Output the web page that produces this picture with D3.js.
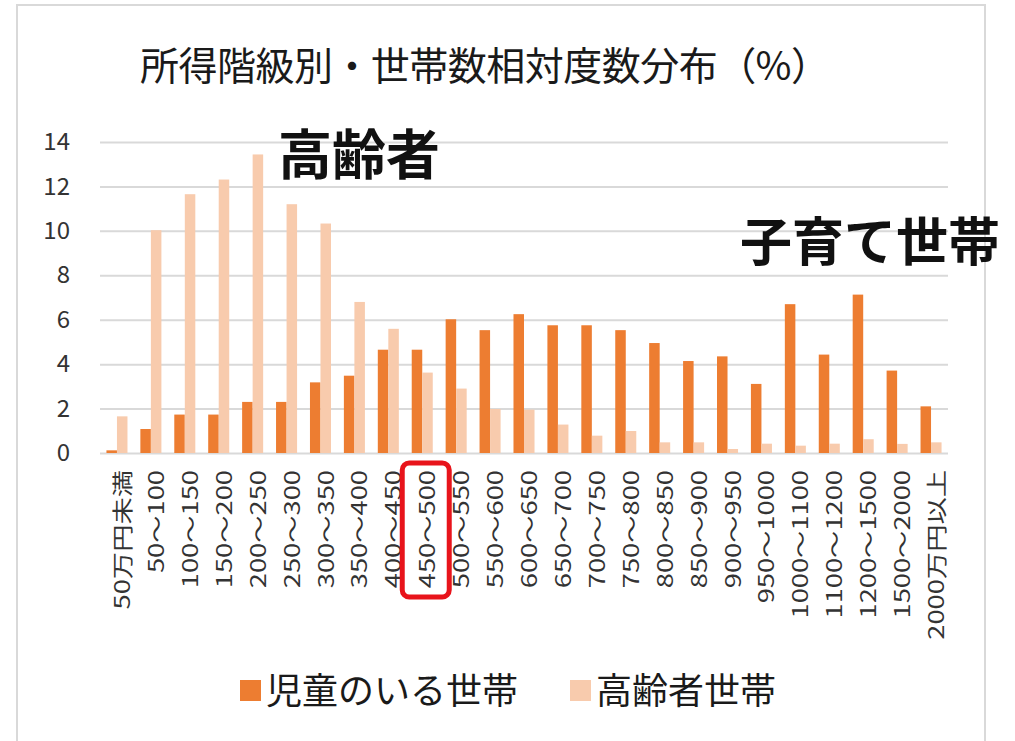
<!DOCTYPE html>
<html><head><meta charset="utf-8">
<script src="https://cdn.jsdelivr.net/npm/d3@7"></script>
<style>body{margin:0;background:#fff}svg{display:block}</style>
</head><body>
<svg id="c" width="1015" height="741"></svg>
<script>
const categories = ["50万円未満","50～100","100～150","150～200","200～250","250～300","300～350","350～400","400～450","450～500","500～550","550～600","600～650","650～700","700～750","750～800","800～850","850～900","900～950","950～1000","1000～1100","1100～1200","1200～1500","1500～2000","2000万円以上"];
const seriesNames = ["児童のいる世帯","高齢者世帯"];
const childValues = [0.12,1.08,1.73,1.73,2.30,2.30,3.18,3.48,4.65,4.65,6.02,5.53,6.25,5.75,5.75,5.53,4.95,4.14,4.35,3.11,6.70,4.43,7.13,3.71,2.10];
const elderValues = [1.65,10.03,11.65,12.31,13.44,11.2,10.33,6.8,5.59,3.62,2.90,1.98,1.95,1.28,0.78,0.99,0.48,0.48,0.18,0.42,0.33,0.42,0.62,0.41,0.48];
const yTicks = [0,2,4,6,8,10,12,14];
const title = "所得階級別・世帯数相対度数分布（%）";
const highlightCategory = "450～500";
const notes = [{text:"高齢者"},{text:"子育て世帯"}];

const colors = ["#ED7D31","#F8CBAD"];
const svg = d3.select("#c");
const font = "'Noto Sans CJK JP','Noto Sans',sans-serif";

svg.append("rect").attr("x",17).attr("y",5).attr("width",968).attr("height",770)
  .attr("fill","#fff").attr("stroke","#d9d9d9").attr("stroke-width",2);

const x = d3.scaleBand().domain(categories).range([100,948]).paddingInner(0.38).paddingOuter(0.19);
const x1 = d3.scaleBand().domain(seriesNames).range([0,x.bandwidth()]);
const y = d3.scaleLinear().domain([0,14]).range([453,142]);

// grid
const yAxis = d3.axisLeft(y).tickValues(yTicks).tickSize(-(948-100)).tickPadding(30);
const gy = svg.append("g").attr("transform","translate(100,0)").call(yAxis);
gy.select(".domain").remove();
gy.selectAll(".tick line").attr("stroke","#d9d9d9").attr("stroke-width",2);
gy.selectAll(".tick text").attr("font-family",font).attr("font-size",24).attr("fill","#333").attr("x",-30);

// bars
const data = categories.map((c,i)=>({c, vals:[childValues[i],elderValues[i]]}));
const g = svg.append("g");
data.forEach(d=>{
  d.vals.forEach((v,k)=>{
    g.append("rect").attr("x",x(d.c)+x1(seriesNames[k])).attr("width",x1.bandwidth())
      .attr("y",y(v)).attr("height",y(0)-y(v)).attr("fill",colors[k]);
  });
});

// x labels
const xAxis = d3.axisBottom(x).tickSize(0).tickPadding(0);
const gx = svg.append("g").attr("transform",`translate(0,${y(0)})`).call(xAxis);
gx.select(".domain").remove();
gx.selectAll(".tick text").attr("font-family",font).attr("font-size",21).attr("fill","#333")
  .attr("text-anchor","end").attr("dominant-baseline","central")
  .attr("transform","translate(4,17) rotate(-90) scale(1.3,1)").attr("x",0).attr("y",0).attr("dy",null);

// highlight box
const hx = x(highlightCategory)+x.bandwidth()/2;
svg.append("rect").attr("x",hx-20).attr("y",463).attr("width",47).attr("height",134).attr("rx",7)
  .attr("fill","none").attr("stroke","#E8141B").attr("stroke-width",5);

// title
svg.append("text").attr("x",140).attr("y",80).attr("font-family",font)
  .attr("font-size",39).attr("fill","#1a1a1a").attr("textLength",690).attr("lengthAdjust","spacing").text(title);

// annotations
svg.append("text").attr("x",278).attr("y",175).attr("font-family",font).attr("font-weight","bold")
  .attr("font-size",54).attr("fill","#111").text(notes[0].text);
svg.append("text").attr("x",740).attr("y",261).attr("font-family",font).attr("font-weight","bold")
  .attr("font-size",52).attr("fill","#111").text(notes[1].text);

// legend
const legendX = [240,570];
seriesNames.forEach((s,k)=>{
  svg.append("rect").attr("x",legendX[k]).attr("y",680).attr("width",21).attr("height",21).attr("fill",colors[k]);
  svg.append("text").attr("x",legendX[k]+26).attr("y",704).attr("font-family",font)
    .attr("font-size",36).attr("fill","#1a1a1a").text(s);
});
</script>
</body></html>
